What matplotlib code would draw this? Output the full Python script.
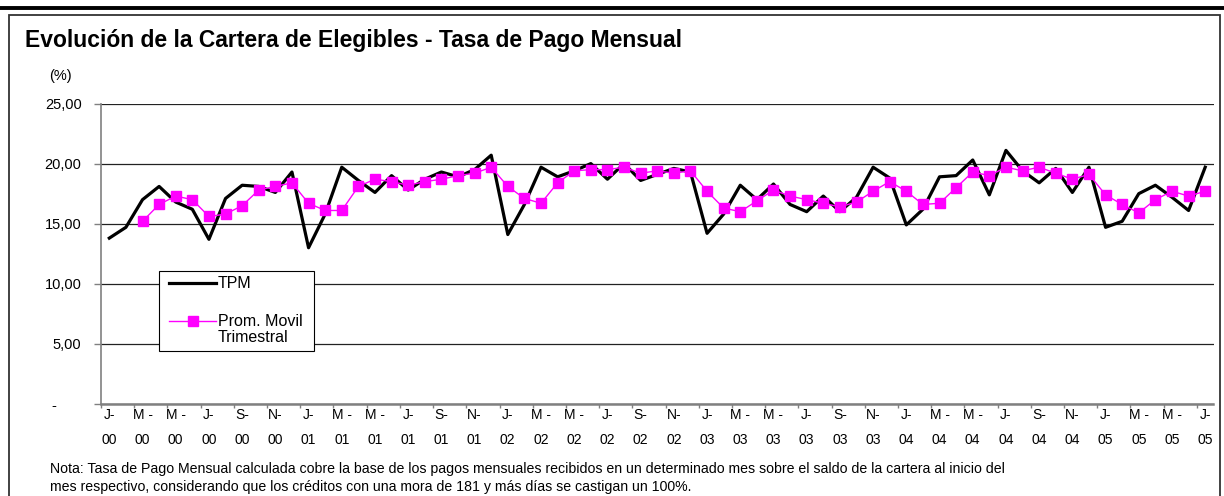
import numpy as np
import matplotlib
matplotlib.use('Agg')
import matplotlib.pyplot as plt
from matplotlib.lines import Line2D
from matplotlib.patches import Rectangle

plt.rcParams['font.family'] = ['Liberation Sans', 'DejaVu Sans']

# Tasa de Pago Mensual, monthly Jan-2000 .. Jul-2005
tpm = [13.8, 14.7, 17.0, 18.1, 16.8, 16.2, 13.7, 17.1, 18.2, 18.1, 17.6, 19.3,
       13.0, 15.8, 19.7, 18.6, 17.6, 19.0, 17.8, 18.7, 19.3, 18.9, 19.5, 20.7,
       14.1, 16.6, 19.7, 18.9, 19.4, 20.0, 18.7, 20.0, 18.6, 19.1, 19.6, 19.3,
       14.2, 15.8, 18.2, 17.0, 18.3, 16.6, 16.0, 17.3, 16.0, 17.2, 19.7, 18.8,
       14.9, 16.2, 18.9, 19.0, 20.3, 17.4, 21.1, 19.4, 18.4, 19.6, 17.6, 19.7,
       14.7, 15.2, 17.5, 18.2, 17.2, 16.1, 19.7]

# Promedio movil trimestral, starts at Mar-2000
prom_movil = [15.2, 16.6, 17.3, 17.0, 15.6, 15.8, 16.5, 17.8, 18.1, 18.4,
              16.7, 16.1, 16.1, 18.1, 18.7, 18.5, 18.2, 18.5, 18.7, 19.0, 19.2, 19.7,
              18.1, 17.1, 16.7, 18.4, 19.4, 19.5, 19.5, 19.7, 19.2, 19.4, 19.2, 19.4,
              17.7, 16.3, 16.0, 16.9, 17.8, 17.3, 17.0, 16.7, 16.4, 16.8, 17.7, 18.5,
              17.7, 16.6, 16.7, 18.0, 19.3, 19.0, 19.7, 19.4, 19.7, 19.2, 18.7, 19.1,
              17.4, 16.6, 15.9, 17.0, 17.7, 17.3, 17.7]

tick_months = ['J-', 'M -', 'M -', 'J-', 'S-', 'N-']
tick_years = ['00', '01', '02', '03', '04', '05']

y_ticks = [0, 5, 10, 15, 20, 25]
y_labels = ['-      ', '5,00', '10,00', '15,00', '20,00', '25,00']

title = 'Evolución de la Cartera de Elegibles - Tasa de Pago Mensual'
nota = ['Nota: Tasa de Pago Mensual calculada cobre la base de los pagos mensuales recibidos en un determinado mes sobre el saldo de la cartera al inicio del',
        'mes respectivo, considerando que los créditos con una mora de 181 y más días se castigan un 100%.']

W, H = 1224, 496
x = np.arange(len(tpm))
x_labels = []
for yr in tick_years:
    for m in tick_months:
        x_labels.append(m + '\n' + yr)
x_labels = x_labels[:len(x[::2])]

fig = plt.figure(figsize=(W / 100, H / 100), dpi=100)
ax = fig.add_axes([101 / W, 1 - 404 / H, (1213.5 - 101) / W, (404 - 103.5) / H])

ax.plot(x, tpm, color='black', lw=2.3, zorder=3)
ax.plot(x[2:], prom_movil, color='#FF00FF', lw=1.0, marker='s', ms=7,
        mec='#FF00FF', mfc='#FF00FF', zorder=4)

ax.set_xlim(-0.5, len(tpm) - 0.5)
ax.set_ylim(0, 25)
ax.set_yticks(y_ticks)
ax.set_yticklabels(y_labels)
ax.set_xticks(x[::2])
ax.set_xticklabels(x_labels, linespacing=2.0)
ax.set_xticks(np.arange(-0.5, len(tpm), 2), minor=True)
ax.tick_params(axis='x', which='major', length=0, pad=3, labelsize=10)
ax.tick_params(axis='x', which='minor', length=3, width=1, color='#808080', direction='out')
ax.tick_params(axis='y', length=5, width=1, color='#808080', pad=9, labelsize=10.5)

ax.yaxis.grid(True, color='#222222', lw=0.9)
ax.set_axisbelow(True)
for s in ['top', 'right']:
    ax.spines[s].set_visible(False)
ax.spines['left'].set_color('#808080')
ax.spines['left'].set_linewidth(1.2)
ax.spines['bottom'].set_color('#808080')
ax.spines['bottom'].set_linewidth(1.8)

# frame of the report
fig.add_artist(Line2D([0, 1], [1 - 7.5 / H, 1 - 7.5 / H], color='black', lw=2.8,
                      transform=fig.transFigure))
fig.add_artist(Rectangle((9 / W, -0.1), (1220 - 9) / W, 1.1 - 15 / H, fill=False,
                         edgecolor='#333333', lw=1.3, transform=fig.transFigure))

fig.text(25 / W, 1 - 40 / H, title, fontsize=16.5, fontweight='bold', va='center')
fig.text(49 / W, 1 - 76 / H, '(%)', fontsize=10.5, va='center')
fig.text(50 / W, 1 - 469 / H, nota[0], fontsize=10.2, va='center')
fig.text(50 / W, 1 - 487 / H, nota[1], fontsize=10.2, va='center')

# legend box
fig.add_artist(Rectangle((159 / W, 1 - 351 / H), 155 / W, 80 / H, facecolor='white',
                         edgecolor='black', lw=0.8, transform=fig.transFigure, zorder=5))
fig.add_artist(Line2D([169 / W, 216 / W], [1 - 283 / H, 1 - 283 / H], color='black', lw=2.3,
                      transform=fig.transFigure, zorder=6))
fig.add_artist(Line2D([169 / W, 216 / W], [1 - 321 / H, 1 - 321 / H], color='#FF00FF', lw=1.0,
                      transform=fig.transFigure, zorder=6))
fig.add_artist(Line2D([192.5 / W], [1 - 321 / H], color='#FF00FF', marker='s', ms=7,
                      transform=fig.transFigure, zorder=7))
fig.text(218 / W, 1 - 283 / H, 'TPM', fontsize=11.5, va='center', zorder=7)
fig.text(218 / W, 1 - 321 / H, 'Prom. Movil', fontsize=11.5, va='center', zorder=7)
fig.text(218 / W, 1 - 338 / H, 'Trimestral', fontsize=11.5, va='center', zorder=7)

fig.savefig('out.png', dpi=100)
